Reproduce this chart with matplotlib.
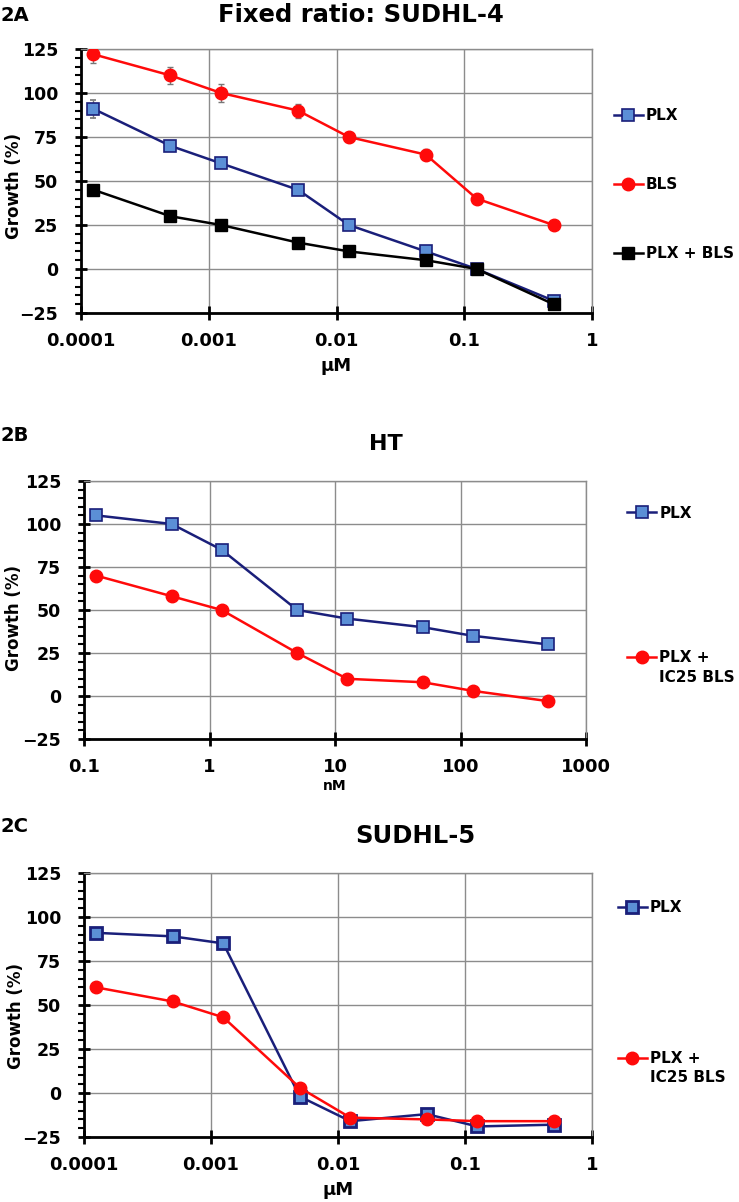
import numpy as np
import matplotlib
matplotlib.use("Agg")
import matplotlib.pyplot as plt
from matplotlib.ticker import FixedLocator, MultipleLocator, FixedFormatter

plt.rcParams["font.family"] = ["DejaVu Sans"]
plt.rcParams["font.weight"] = "bold"

# concentrations
conc_um = [0.000125, 0.0005, 0.00125, 0.005, 0.0125, 0.05, 0.125, 0.5]
conc_nm = [0.125, 0.5, 1.25, 5, 12.5, 50, 125, 500]

# panel 2A : fixed ratio SUDHL-4
a_plx = [91, 70, 60, 45, 25, 10, 0, -18]
a_plx_err = [5, 3, 2, 2, 2, 2, 1, 1]
a_bls = [122, 110, 100, 90, 75, 65, 40, 25]
a_bls_err = [5, 5, 5, 4, 3, 3, 2, 1]
a_comb = [45, 30, 25, 15, 10, 5, 0, -20]
a_comb_err = [2, 2, 2, 2, 2, 2, 1, 2]

# panel 2B : HT
b_plx = [105, 100, 85, 50, 45, 40, 35, 30]
b_comb = [70, 58, 50, 25, 10, 8, 3, -3]

# panel 2C : SUDHL-5
c_plx = [91, 89, 85, -2, -16, -12, -19, -18]
c_comb = [60, 52, 43, 3, -14, -15, -16, -16]

y_ticks = [-25, 0, 25, 50, 75, 100, 125]

navy = "#1a1f7a"
light_blue = "#5b8fd6"
red = "#ff0a0a"
leg_size = 11

W, H = 739, 1202
fig = plt.figure(figsize=(W / 100, H / 100), dpi=100)


def px_axes(l, r, t, b):
    return fig.add_axes([l / W, 1 - b / H, (r - l) / W, (b - t) / H])


def style_axes(ax, xmin, xmax, xticks, xlabels, ylab_x, ylab_y):
    ax.set_xscale("log")
    ax.set_xlim(xmin, xmax)
    ax.set_ylim(-25, 125)
    ax.xaxis.set_major_locator(FixedLocator(xticks))
    ax.xaxis.set_major_formatter(FixedFormatter(xlabels))
    ax.xaxis.set_minor_locator(FixedLocator([]))
    ax.yaxis.set_major_locator(FixedLocator(y_ticks))
    ax.yaxis.set_minor_locator(MultipleLocator(5))
    ax.grid(True, which="major", color="#8c8c8c", linewidth=1.0)
    ax.set_axisbelow(True)
    for s in ["top", "right"]:
        ax.spines[s].set_color("#8c8c8c")
        ax.spines[s].set_linewidth(1.0)
    for s in ["left", "bottom"]:
        ax.spines[s].set_color("black")
        ax.spines[s].set_linewidth(2.0)
    ax.tick_params(axis="y", which="major", direction="inout", length=9, width=2,
                   labelsize=12.5, pad=12)
    ax.tick_params(axis="y", which="minor", direction="out", length=4, width=1.5)
    ax.tick_params(axis="x", which="major", direction="inout", length=10, width=2,
                   labelsize=13, pad=9)
    ax.set_ylabel("Growth (%)", fontsize=12, fontweight="bold")
    ax.yaxis.set_label_coords(ylab_x, ylab_y)


def place_legend(ax, x, y, spacing):
    return ax.legend(loc="upper left", bbox_to_anchor=(x, y), frameon=False,
                     fontsize=leg_size, handlelength=1.9, handletextpad=0.2,
                     labelspacing=spacing, borderaxespad=0, borderpad=0)


def px_text(x, y, s, size, ha="left"):
    fig.text(x / W, 1 - y / H, s, fontsize=size, fontweight="bold", ha=ha,
             va="baseline")


# ---- 2A
ax = px_axes(81, 592, 49, 313)
style_axes(ax, 1e-4, 1, [1e-4, 1e-3, 1e-2, 1e-1, 1],
           ["0.0001", "0.001", "0.01", "0.1", "1"], -0.113, 0.48)
ax.errorbar(conc_um, a_plx, yerr=a_plx_err, color=navy, lw=1.8, marker="s", ms=9,
            mfc=light_blue, mec=navy, mew=1.2, ecolor="#777777", elinewidth=1,
            capsize=2.5, label="PLX", zorder=3)
ax.errorbar(conc_um, a_bls, yerr=a_bls_err, color=red, lw=1.8, marker="o", ms=9,
            mfc=red, mec=red, ecolor="#777777", elinewidth=1, capsize=2.5,
            label="BLS", zorder=3)
ax.errorbar(conc_um, a_comb, yerr=a_comb_err, color="black", lw=1.8, marker="s", ms=9,
            mfc="black", mec="black", ecolor="#777777", elinewidth=1, capsize=2.5,
            label="PLX + BLS", zorder=3)
h, l = ax.get_legend_handles_labels()
ax.legend([x[0] for x in h], l, loc="upper left", bbox_to_anchor=(1.043, 0.777),
          frameon=False, fontsize=leg_size, handlelength=1.9, handletextpad=0.2,
          labelspacing=3.55, borderaxespad=0, borderpad=0)
ax.set_xlabel("µM", fontsize=13, fontweight="bold", labelpad=5)
px_text(0, 21, "2A", 14)
px_text(361, 22, "Fixed ratio: SUDHL-4", 17.5, ha="center")

# ---- 2B
ax = px_axes(84, 586, 481, 739)
style_axes(ax, 0.1, 1000, [0.1, 1, 10, 100, 1000],
           ["0.1", "1", "10", "100", "1000"], -0.122, 0.47)
ax.plot(conc_nm, b_plx, color=navy, lw=1.8, marker="s", ms=9, mfc=light_blue,
        mec=navy, mew=1.2, label="PLX", zorder=3)
ax.plot(conc_nm, b_comb, color=red, lw=1.8, marker="o", ms=9, mfc=red, mec=red,
        label="PLX +", zorder=3)
place_legend(ax, 1.082, 0.905, 8.5)
px_text(659, 682, "IC25 BLS", leg_size)
ax.set_xlabel("nM", fontsize=10, fontweight="bold", labelpad=2)
px_text(0, 441, "2B", 14)
px_text(386, 450, "HT", 16, ha="center")

# ---- 2C
ax = px_axes(84, 592, 873, 1137)
style_axes(ax, 1e-4, 1, [1e-4, 1e-3, 1e-2, 1e-1, 1],
           ["0.0001", "0.001", "0.01", "0.1", "1"], -0.116, 0.46)
ax.plot(conc_um, c_plx, color=navy, lw=1.8, marker="s", ms=9, mfc=light_blue,
        mec=navy, mew=2, label="PLX", zorder=3)
ax.plot(conc_um, c_comb, color=red, lw=1.8, marker="o", ms=9, mfc=red, mec=red,
        label="PLX +", zorder=4)
place_legend(ax, 1.051, 0.896, 8.9)
px_text(650, 1082, "IC25 BLS", leg_size)
ax.set_xlabel("µM", fontsize=13, fontweight="bold", labelpad=5)
px_text(0, 832, "2C", 14)
px_text(415, 843, "SUDHL-5", 17.5, ha="center")

fig.savefig("out.png", dpi=100)
